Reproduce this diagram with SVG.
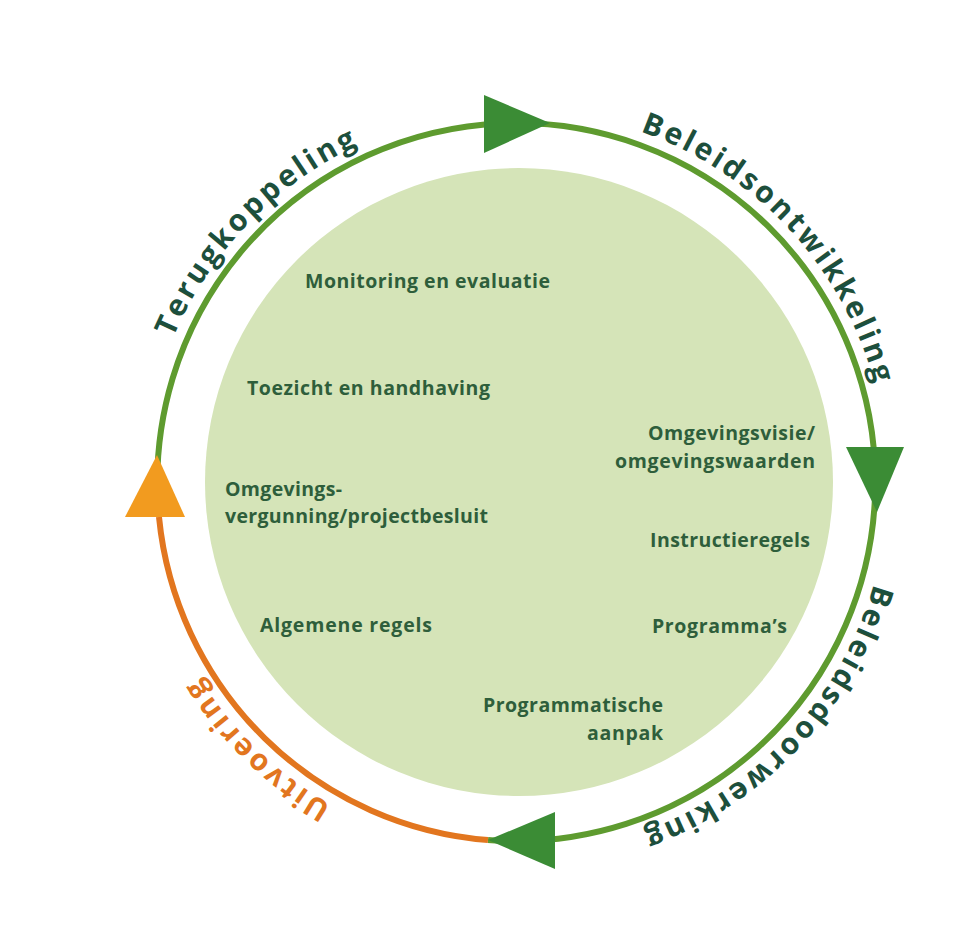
<svg xmlns="http://www.w3.org/2000/svg" xmlns:xlink="http://www.w3.org/1999/xlink" width="977" height="931" viewBox="0 0 977 931">
  <style>
    .ring { fill: none; stroke-width: 6; }
    .green { stroke: #5e9b2f; }
    .orange { stroke: #e2761f; }
    .arrow-g { fill: #3b8c35; }
    .arrow-o { fill: #f29b1f; }
    .arc-label { font-family: "Open Sans", "Noto Sans", sans-serif; font-weight: 700; font-size: 30px; letter-spacing: 3px; }
    .inner { font-family: "Open Sans", "Noto Sans", sans-serif; font-weight: 700; font-size: 19.5px; fill: #2e5e3b; }
  </style>
  <defs>
    <path id="labelCircle" d="M 516,110 A 372 372 0 1 1 516,854 A 372 372 0 1 1 516,110"/>
  </defs>
  <rect x="0" y="0" width="977" height="931" fill="#ffffff"/>

  <g id="center-circle">
    <circle cx="519" cy="482" r="314" fill="#d5e4b8"/>
  </g>

  <g id="connectors">
    <path class="ring green" d="M 159,517 A 359 359 0 1 1 488,840"/>
    <path class="ring orange" d="M 488,840 A 359 359 0 0 1 159,517"/>
    <polygon class="arrow-g" points="484,95 484,153 550,123"/>
    <polygon class="arrow-g" points="846,447 904,447 877,512"/>
    <polygon class="arrow-g" points="555,812 555,869 488,840"/>
    <polygon class="arrow-o" points="157,455 125,517 185,517"/>
  </g>

  <g id="label-terugkoppeling">
    <text class="arc-label" fill="#1d4f3c"><textPath xlink:href="#labelCircle" href="#labelCircle" startOffset="2038" text-anchor="middle">Terugkoppeling</textPath></text>
  </g>
  <g id="label-beleidsontwikkeling">
    <text class="arc-label" fill="#1d4f3c"><textPath xlink:href="#labelCircle" href="#labelCircle" startOffset="307" text-anchor="middle">Beleidsontwikkeling</textPath></text>
  </g>
  <g id="label-beleidsdoorwerking">
    <text class="arc-label" fill="#1d4f3c"><textPath xlink:href="#labelCircle" href="#labelCircle" startOffset="864" text-anchor="middle">Beleidsdoorwerking</textPath></text>
  </g>
  <g id="label-uitvoering">
    <text class="arc-label" fill="#e2761f"><textPath xlink:href="#labelCircle" href="#labelCircle" startOffset="1455" text-anchor="middle">Uitvoering</textPath></text>
  </g>

  <g id="node-monitoring">
    <text class="inner" x="305" y="288" textLength="245" lengthAdjust="spacing">Monitoring en evaluatie</text>
  </g>
  <g id="node-toezicht">
    <text class="inner" x="247" y="395" textLength="243" lengthAdjust="spacing">Toezicht en handhaving</text>
  </g>
  <g id="node-omgevingsvergunning">
    <text class="inner" x="225" y="496" textLength="117" lengthAdjust="spacing">Omgevings-</text>
    <text class="inner" x="225" y="523" textLength="263" lengthAdjust="spacing">vergunning/projectbesluit</text>
  </g>
  <g id="node-algemene-regels">
    <text class="inner" x="260" y="632" textLength="172" lengthAdjust="spacing">Algemene regels</text>
  </g>
  <g id="node-omgevingsvisie">
    <text class="inner" x="648" y="440" textLength="167" lengthAdjust="spacing">Omgevingsvisie/</text>
    <text class="inner" x="615" y="468" textLength="200" lengthAdjust="spacing">omgevingswaarden</text>
  </g>
  <g id="node-instructieregels">
    <text class="inner" x="650" y="547" textLength="160" lengthAdjust="spacing">Instructieregels</text>
  </g>
  <g id="node-programmas">
    <text class="inner" x="652" y="633" textLength="135" lengthAdjust="spacing">Programma’s</text>
  </g>
  <g id="node-programmatische-aanpak">
    <text class="inner" x="483" y="712" textLength="180" lengthAdjust="spacing">Programmatische</text>
    <text class="inner" x="587" y="740" textLength="76" lengthAdjust="spacing">aanpak</text>
  </g>
</svg>
